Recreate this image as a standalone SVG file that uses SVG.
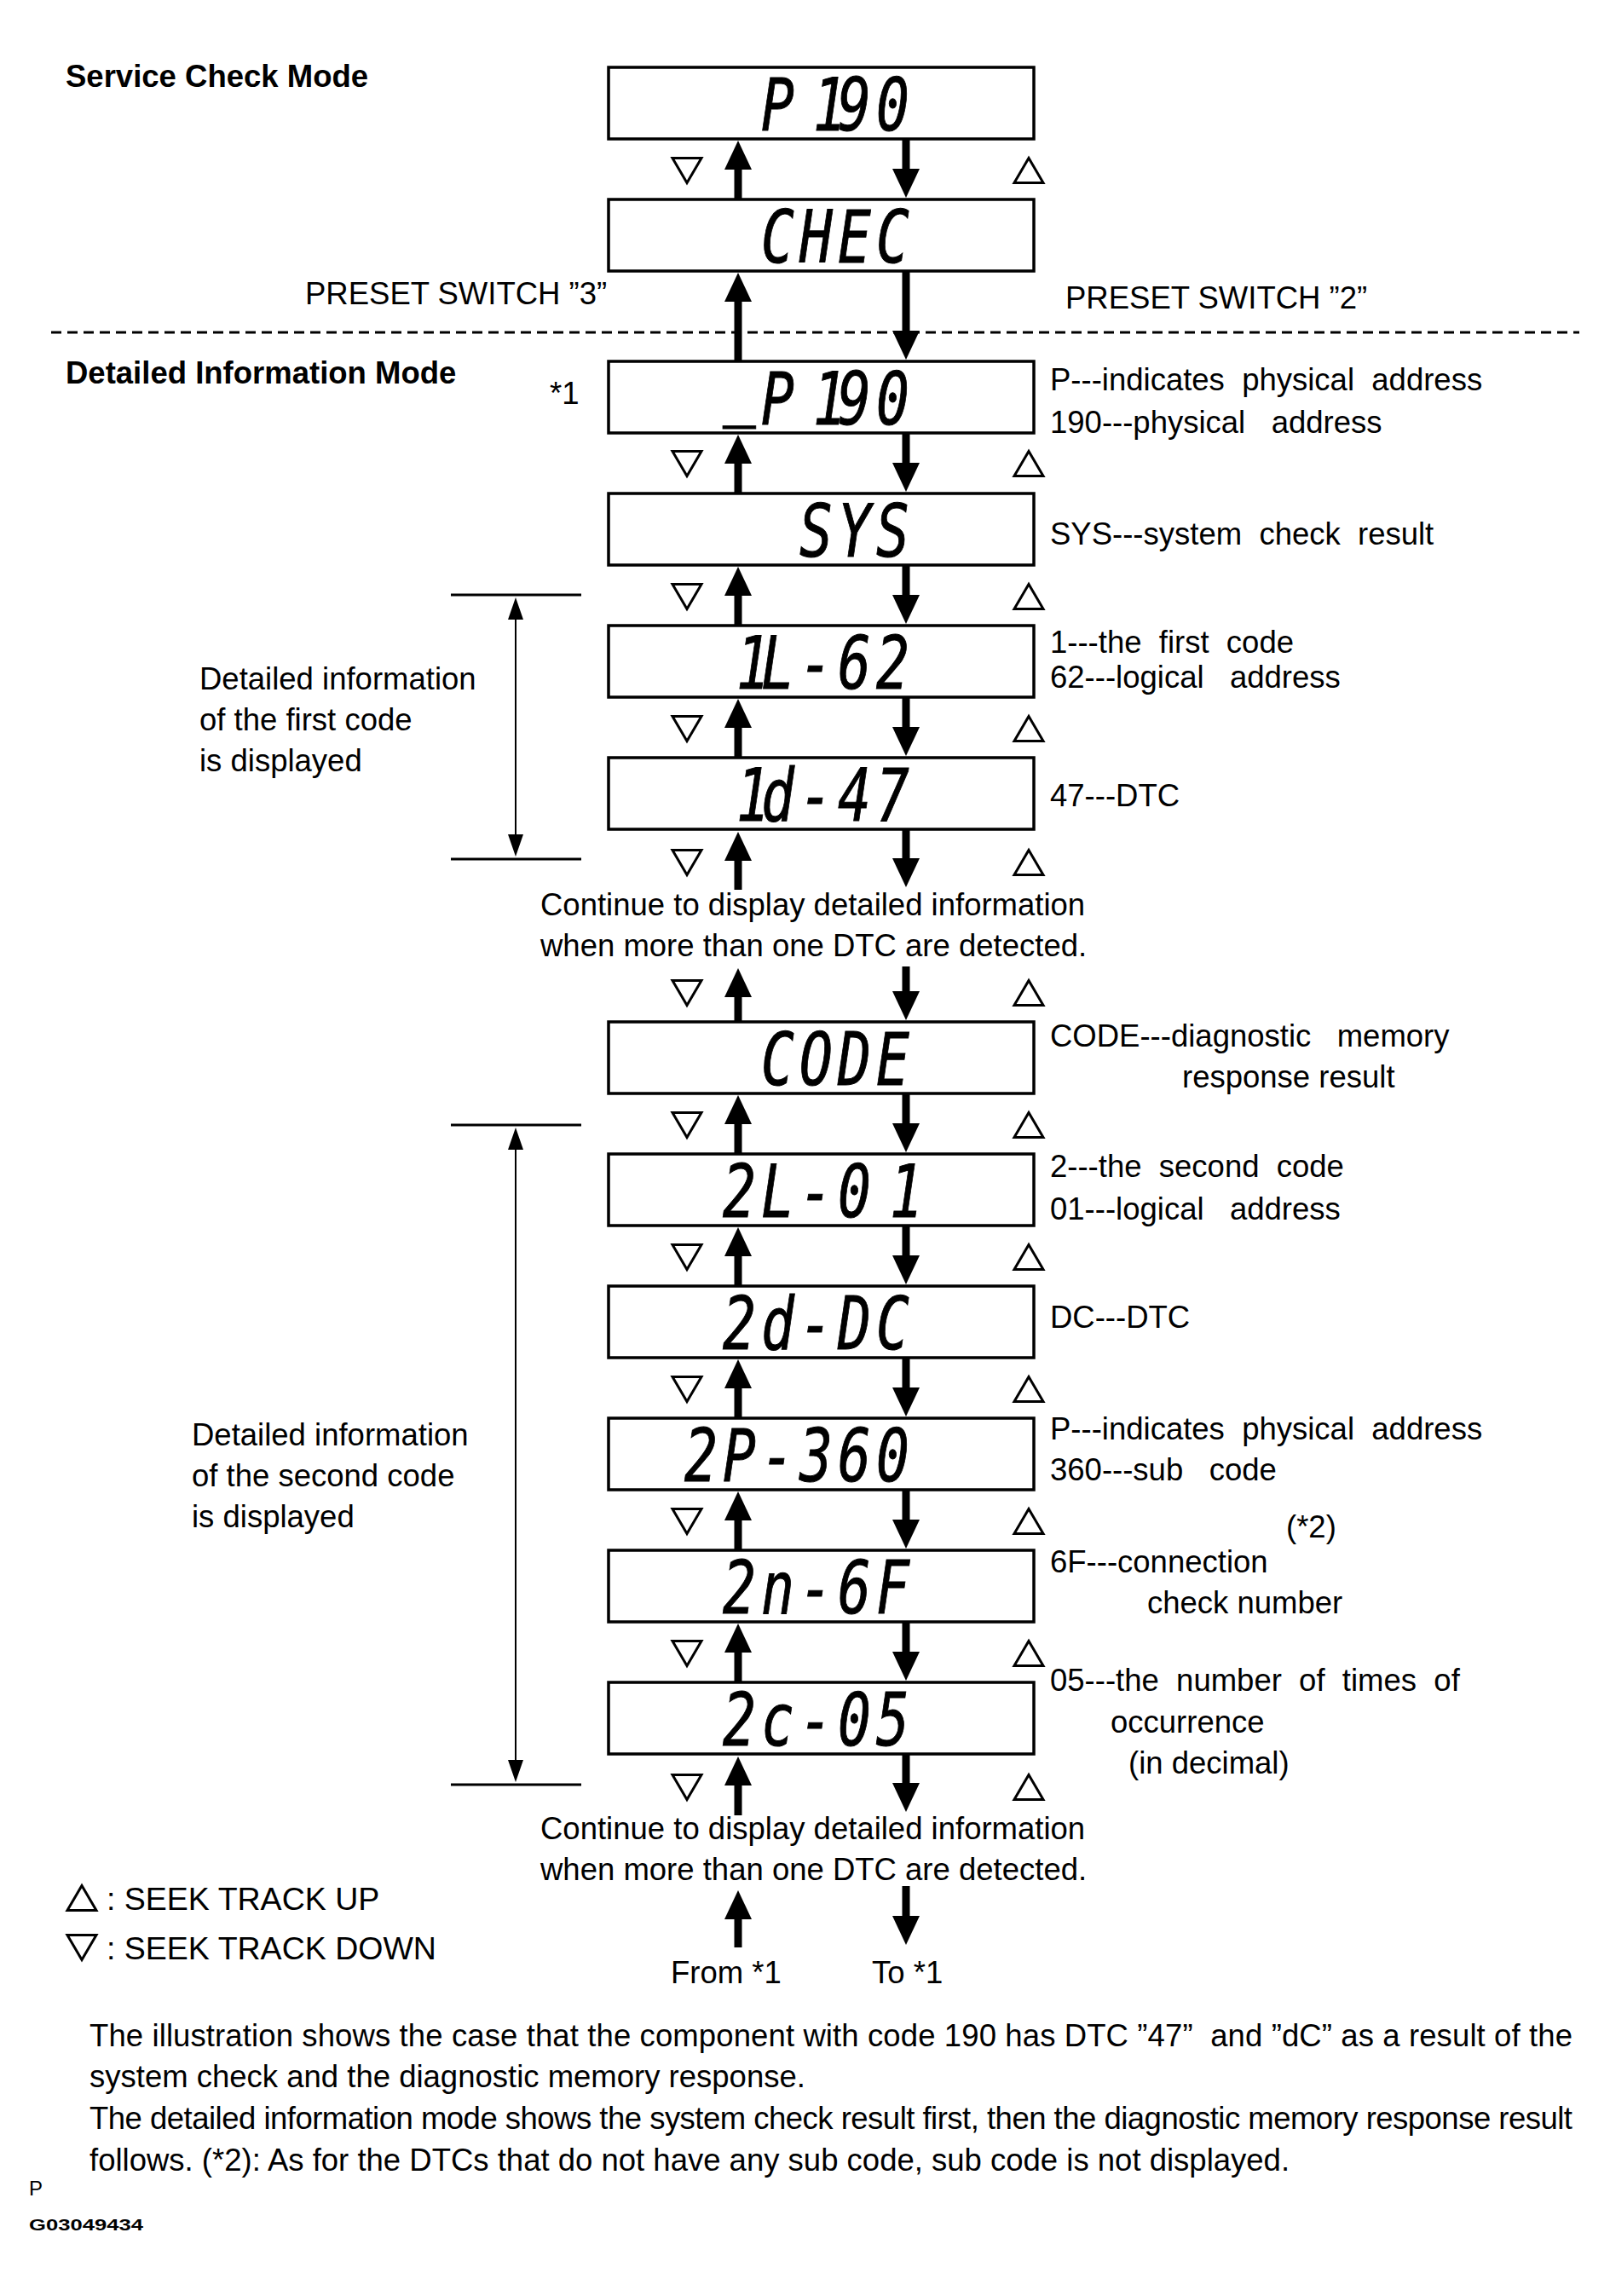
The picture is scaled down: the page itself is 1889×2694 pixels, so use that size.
<svg xmlns="http://www.w3.org/2000/svg" width="1889" height="2694" viewBox="0 0 1889 2694">
<style>
.t{font-family:"Liberation Sans",Arial,sans-serif;font-size:36.5px;fill:#000;white-space:pre}
.b{font-weight:bold}
.box{fill:#fff;stroke:#000;stroke-width:3.5}
.lcd{font-family:"DejaVu Sans Mono",monospace;font-size:86px;font-style:italic;fill:#000;stroke:#000;stroke-width:1}
.sh{stroke:#000;stroke-width:9;fill:none;marker-end:url(#ah)}
.tri{fill:#fff;stroke:#000;stroke-width:3}
.dash{stroke:#000;stroke-width:3;stroke-dasharray:12 7;fill:none}
.brk{stroke:#000;stroke-width:3;fill:none}
.brv{stroke:#000;stroke-width:2;fill:none;marker-start:url(#ahs);marker-end:url(#ahs)}
</style>
<defs>
<marker id="ah" markerUnits="userSpaceOnUse" viewBox="0 0 34 32" markerWidth="34" markerHeight="32" refX="1" refY="16" orient="auto"><path d="M0,0 L34,16 L0,32 Z" fill="#000"/></marker>
<marker id="ahs" markerUnits="userSpaceOnUse" viewBox="0 0 26 18" markerWidth="26" markerHeight="18" refX="1" refY="9" orient="auto-start-reverse"><path d="M0,0 L26,9 L0,18 Z" fill="#000"/></marker>
<path id="dn" d="M-17,-14.5 L17,-14.5 L0,14.5 Z"/>
<path id="up" d="M-17,14.5 L17,14.5 L0,-14.5 Z"/>
</defs>
<rect width="1889" height="2694" fill="#fff"/>

<text class="t b" x="77" y="102">Service Check Mode</text>
<text class="t b" x="77" y="450">Detailed Information Mode</text>
<text class="t" x="645" y="474">*1</text>
<text class="t" x="358" y="357">PRESET SWITCH ”3”</text>
<text class="t" x="1250" y="362">PRESET SWITCH ”2”</text>
<line class="dash" x1="60" y1="390" x2="1853" y2="390"/>

<g id="connectors">
<path class="sh" d="M866,234 V198"/><path class="sh" d="M1063,163 V199"/>
<path class="sh" d="M866,424 V353"/><path class="sh" d="M1063,318 V389"/>
<path class="sh" d="M866,579 V543"/><path class="sh" d="M1063,508 V544"/>
<path class="sh" d="M866,734 V698"/><path class="sh" d="M1063,663 V699"/>
<path class="sh" d="M866,889 V853"/><path class="sh" d="M1063,818 V854"/>
<path class="sh" d="M866,1044 V1009"/><path class="sh" d="M1063,973 V1008"/>
<path class="sh" d="M866,1199 V1169"/><path class="sh" d="M1063,1134 V1164"/>
<path class="sh" d="M866,1354 V1318"/><path class="sh" d="M1063,1283 V1319"/>
<path class="sh" d="M866,1509 V1473"/><path class="sh" d="M1063,1438 V1474"/>
<path class="sh" d="M866,1664 V1628"/><path class="sh" d="M1063,1593 V1629"/>
<path class="sh" d="M866,1819 V1783"/><path class="sh" d="M1063,1748 V1784"/>
<path class="sh" d="M866,1974 V1938"/><path class="sh" d="M1063,1903 V1939"/>
<path class="sh" d="M866,2130 V2094"/><path class="sh" d="M1063,2058 V2093"/>
<path class="sh" d="M866,2285 V2251"/><path class="sh" d="M1063,2213 V2249"/>
</g>

<g id="triangles">
<use href="#dn" class="tri" x="806" y="200"/><use href="#up" class="tri" x="1207" y="200"/>
<use href="#dn" class="tri" x="806" y="544"/><use href="#up" class="tri" x="1207" y="544"/>
<use href="#dn" class="tri" x="806" y="700"/><use href="#up" class="tri" x="1207" y="700"/>
<use href="#dn" class="tri" x="806" y="855"/><use href="#up" class="tri" x="1207" y="855"/>
<use href="#dn" class="tri" x="806" y="1012"/><use href="#up" class="tri" x="1207" y="1012"/>
<use href="#dn" class="tri" x="806" y="1165"/><use href="#up" class="tri" x="1207" y="1165"/>
<use href="#dn" class="tri" x="806" y="1320"/><use href="#up" class="tri" x="1207" y="1320"/>
<use href="#dn" class="tri" x="806" y="1475"/><use href="#up" class="tri" x="1207" y="1475"/>
<use href="#dn" class="tri" x="806" y="1630"/><use href="#up" class="tri" x="1207" y="1630"/>
<use href="#dn" class="tri" x="806" y="1785"/><use href="#up" class="tri" x="1207" y="1785"/>
<use href="#dn" class="tri" x="806" y="1940"/><use href="#up" class="tri" x="1207" y="1940"/>
<use href="#dn" class="tri" x="806" y="2097"/><use href="#up" class="tri" x="1207" y="2097"/>
</g>

<g id="n1"><rect class="box" x="714" y="79" width="499" height="84"/><text class="lcd" transform="scale(0.75,1)" x="1190.7 1272 1310.7 1370.7" y="153">P190</text></g>
<g id="n2"><rect class="box" x="714" y="234" width="499" height="84"/><text class="lcd" transform="scale(0.75,1)" x="1190.7 1250.7 1310.7 1370.7" y="308">CHEC</text></g>
<g id="n3"><rect class="box" x="714" y="424" width="499" height="84"/><text class="lcd" transform="scale(0.75,1)" x="1130.7 1190.7 1272 1310.7 1370.7" y="483 498 498 498 498">_P190</text>
<text class="t" x="1232" y="458">P---indicates  physical  address</text>
<text class="t" x="1232" y="508">190---physical   address</text></g>
<g id="n4"><rect class="box" x="714" y="579" width="499" height="84"/><text class="lcd" transform="scale(0.75,1)" x="1250.7 1310.7 1370.7" y="653">SYS</text>
<text class="t" x="1232" y="639">SYS---system  check  result</text></g>
<g id="n5"><rect class="box" x="714" y="734" width="499" height="84"/><text class="lcd" transform="scale(0.75,1)" x="1152 1190.7 1250.7 1310.7 1370.7" y="808">1L-62</text>
<text class="t" x="1232" y="766">1---the  first  code</text>
<text class="t" x="1232" y="807">62---logical   address</text></g>
<g id="n6"><rect class="box" x="714" y="889" width="499" height="84"/><text class="lcd" transform="scale(0.75,1)" x="1152 1190.7 1250.7 1310.7 1370.7" y="963">1d-47</text>
<text class="t" x="1232" y="946">47---DTC</text></g>
<g id="n7"><rect class="box" x="714" y="1199" width="499" height="84"/><text class="lcd" transform="scale(0.75,1)" x="1190.7 1250.7 1310.7 1370.7" y="1273">CODE</text>
<text class="t" x="1232" y="1228">CODE---diagnostic   memory</text>
<text class="t" x="1387" y="1276">response result</text></g>
<g id="n8"><rect class="box" x="714" y="1354" width="499" height="84"/><text class="lcd" transform="scale(0.75,1)" x="1130.7 1190.7 1250.7 1310.7 1392" y="1428">2L-01</text>
<text class="t" x="1232" y="1381">2---the  second  code</text>
<text class="t" x="1232" y="1431">01---logical   address</text></g>
<g id="n9"><rect class="box" x="714" y="1509" width="499" height="84"/><text class="lcd" transform="scale(0.75,1)" x="1130.7 1190.7 1250.7 1310.7 1370.7" y="1583">2d-DC</text>
<text class="t" x="1232" y="1558">DC---DTC</text></g>
<g id="n10"><rect class="box" x="714" y="1664" width="499" height="84"/><text class="lcd" transform="scale(0.75,1)" x="1070.7 1130.7 1190.7 1250.7 1310.7 1370.7" y="1738">2P-360</text>
<text class="t" x="1232" y="1689">P---indicates  physical  address</text>
<text class="t" x="1232" y="1737">360---sub   code</text>
<text class="t" x="1509" y="1804">(*2)</text></g>
<g id="n11"><rect class="box" x="714" y="1819" width="499" height="84"/><text class="lcd" transform="scale(0.75,1)" x="1130.7 1190.7 1250.7 1310.7 1370.7" y="1893">2n-6F</text>
<text class="t" x="1232" y="1845">6F---connection</text>
<text class="t" x="1346" y="1893">check number</text></g>
<g id="n12"><rect class="box" x="714" y="1974" width="499" height="84"/><text class="lcd" transform="scale(0.75,1)" x="1130.7 1190.7 1250.7 1310.7 1370.7" y="2048">2c-05</text>
<text class="t" x="1232" y="1984">05---the  number  of  times  of</text>
<text class="t" x="1303" y="2033">occurrence</text>
<text class="t" x="1324" y="2081">(in decimal)</text></g>

<g id="bracket1">
<line class="brk" x1="529" y1="698" x2="682" y2="698"/>
<line class="brk" x1="529" y1="1008" x2="682" y2="1008"/>
<line class="brv" x1="605" y1="726" x2="605" y2="980"/>
<text class="t" x="234" y="809">Detailed information</text>
<text class="t" x="234" y="857">of the first code</text>
<text class="t" x="234" y="905">is displayed</text>
</g>
<g id="bracket2">
<line class="brk" x1="529" y1="1320" x2="682" y2="1320"/>
<line class="brk" x1="529" y1="2094" x2="682" y2="2094"/>
<line class="brv" x1="605" y1="1348" x2="605" y2="2066"/>
<text class="t" x="225" y="1696">Detailed information</text>
<text class="t" x="225" y="1744">of the second code</text>
<text class="t" x="225" y="1792">is displayed</text>
</g>

<text class="t" x="634" y="1074">Continue to display detailed information</text>
<text class="t" x="634" y="1122">when more than one DTC are detected.</text>
<text class="t" x="634" y="2158">Continue to display detailed information</text>
<text class="t" x="634" y="2206">when more than one DTC are detected.</text>

<g id="legend">
<use href="#up" class="tri" x="96" y="2227"/>
<text class="t" x="125" y="2241" style="font-size:37.5px">: SEEK TRACK UP</text>
<use href="#dn" class="tri" x="96" y="2285"/>
<text class="t" x="125" y="2299" style="font-size:37.5px">: SEEK TRACK DOWN</text>
</g>
<text class="t" x="787" y="2327">From *1</text>
<text class="t" x="1023" y="2327">To *1</text>

<text class="t" x="105" y="2401" textLength="1740" lengthAdjust="spacing">The illustration shows the case that the component with code 190 has DTC ”47”  and ”dC” as a result of the</text>
<text class="t" x="105" y="2449">system check and the diagnostic memory response.</text>
<text class="t" x="105" y="2498" textLength="1740" lengthAdjust="spacing">The detailed information mode shows the system check result first, then the diagnostic memory response result</text>
<text class="t" x="105" y="2547">follows. (*2): As for the DTCs that do not have any sub code, sub code is not displayed.</text>
<text class="t" x="34" y="2576" style="font-size:24px">P</text>
<text class="t b" x="34" y="2617" style="font-size:19px" textLength="134" lengthAdjust="spacingAndGlyphs">G03049434</text>
</svg>
